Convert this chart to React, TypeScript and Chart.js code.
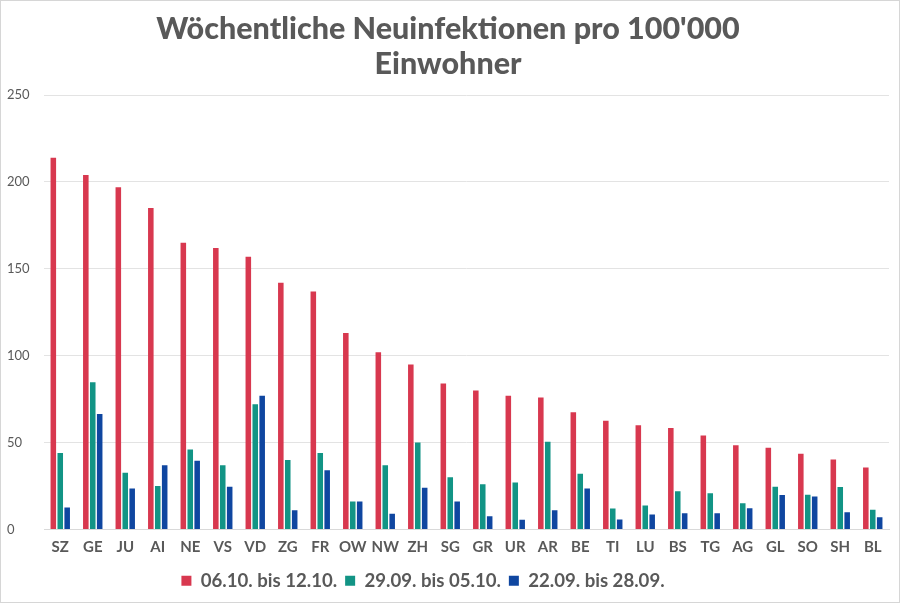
import React, { useEffect, useRef } from "react";
import { Chart, registerables } from "chart.js";

Chart.register(...registerables);

const categories = ["SZ","GE","JU","AI","NE","VS","VD","ZG","FR","OW","NW","ZH","SG","GR","UR","AR","BE","TI","LU","BS","TG","AG","GL","SO","SH","BL"];
const week1 = [214, 204, 197, 185, 165, 162, 157, 142, 137, 113, 102, 95, 84, 80, 77, 76, 67.5, 62.5, 60, 58.4, 54, 48.4, 47, 43.5, 40.2, 35.6];
const week2 = [44, 84.7, 32.6, 25, 46, 37, 72, 40, 44, 16, 37, 50, 30, 26, 27, 50.5, 32, 12, 13.7, 22, 20.8, 15, 24.6, 20, 24.4, 11.3];
const week3 = [12.6, 66.4, 23.5, 37, 39.5, 24.6, 77, 11, 34, 16, 9, 24, 16, 7.5, 5.5, 11, 23.5, 5.7, 8.6, 9.3, 9.3, 12.2, 19.8, 19, 9.9, 7];
const seriesLabels = ["06.10. bis 12.10.", "29.09. bis 05.10.", "22.09. bis 28.09."];
const titleLines = ["Wöchentliche Neuinfektionen pro 100'000", "Einwohner"];

const colors = ["#d8384f", "#129485", "#0f46a0"];
const textColor = "#595959";

const legendShift = {
  id: "legendShift",
  afterLayout(chart: any) {
    if (chart.legend) {
      chart.legend.left -= 25;
      chart.legend.right -= 25;
      chart.legend.top -= 2;
      chart.legend.bottom -= 2;
    }
  },
};

export default function App() {
  const ref = useRef<HTMLCanvasElement | null>(null);
  useEffect(() => {
    document.body.style.margin = "0";
    const ctx = ref.current!;
    const chart = new Chart(ctx, {
      type: "bar",
      data: {
        labels: categories,
        datasets: [week1, week2, week3].map((d, i) => ({
          label: seriesLabels[i],
          data: d,
          backgroundColor: colors[i],
          borderWidth: 0,
          categoryPercentage: 0.64,
          barPercentage: 0.8,
        })),
      },
      plugins: [legendShift],
      options: {
        responsive: false,
        animation: false,
        layout: { padding: { left: 6, right: 10, top: 0, bottom: 0 } },
        plugins: {
          title: {
            display: true,
            text: titleLines,
            color: textColor,
            font: { family: "Lato", size: 30.5, weight: "900", lineHeight: 1.15 },
            padding: { top: 11, bottom: 13 },
          },
          legend: {
            position: "bottom",
            labels: {
              color: textColor,
              font: { family: "Lato", size: 18.6, weight: "bold" },
              boxWidth: 10,
              boxHeight: 10,
              padding: 8,
            },
          },
          tooltip: { enabled: false },
        },
        scales: {
          x: {
            grid: { display: false, drawTicks: false },
            border: { display: true, color: "#d9d9d9", width: 1 },
            ticks: {
              color: textColor,
              font: { family: "Lato", size: 15, weight: "bold" },
              padding: 9,
              autoSkip: false,
              maxRotation: 0,
            },
          },
          y: {
            min: 0,
            max: 250,
            grid: { color: "#e3e3e3", drawTicks: false },
            border: { display: false },
            afterFit: (scale: any) => { scale.width = 37; },
            ticks: {
              stepSize: 50,
              color: textColor,
              font: { family: "Lato", size: 13 },
              padding: 14,
              crossAlign: "far",
            },
          },
        },
      },
    });
    return () => chart.destroy();
  }, []);
  return (
    <div style={{ width: 900, height: 603, boxSizing: "border-box", border: "1px solid #d6d6d6", background: "#fff", position: "relative" }}>
      <canvas ref={ref} width={898} height={601} style={{ display: "block" }} />
    </div>
  );
}
